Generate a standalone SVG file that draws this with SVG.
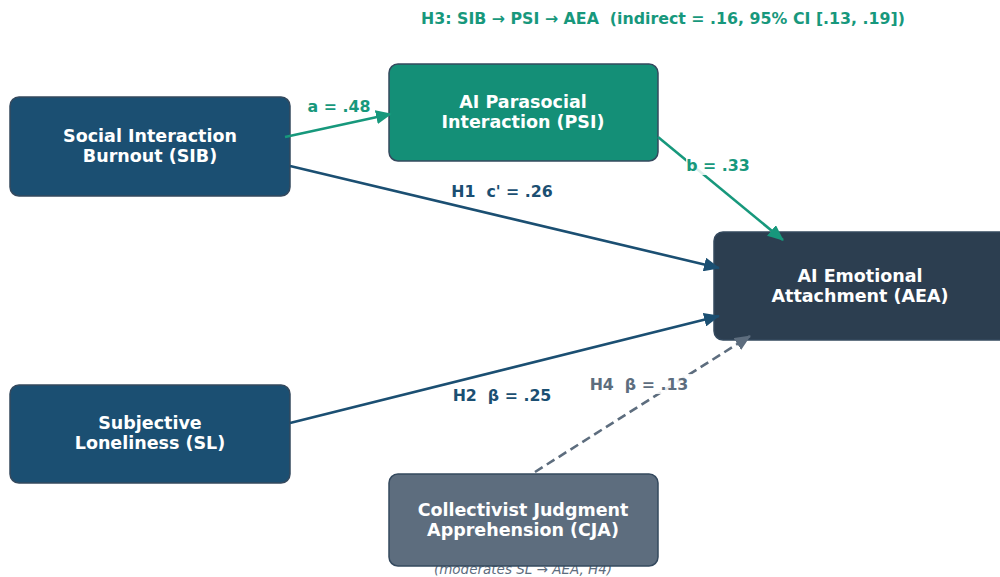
<svg xmlns="http://www.w3.org/2000/svg" width="1000" height="577" viewBox="0 0 1000 577">
<style>
.node{stroke:#34495e;stroke-width:1.5}
.nt{font-family:"DejaVu Sans",sans-serif;font-weight:bold;font-size:17.5px;fill:#ffffff;text-anchor:middle}
.lbl{font-family:"DejaVu Sans",sans-serif;font-weight:bold;font-size:15.8px;text-anchor:middle;white-space:pre}
.g{fill:#17987c}
.b{fill:#1b4f72}
.s{fill:#5d6d7e}
</style>
<defs>
<marker id="ag" markerUnits="userSpaceOnUse" markerWidth="16" markerHeight="14" refX="15" refY="7" orient="auto"><path d="M0,0 L16,7 L0,14 z" fill="#17987c"/></marker>
<marker id="ab" markerUnits="userSpaceOnUse" markerWidth="16" markerHeight="14" refX="15" refY="7" orient="auto"><path d="M0,0 L16,7 L0,14 z" fill="#1b4f72"/></marker>
<marker id="as" markerUnits="userSpaceOnUse" markerWidth="16" markerHeight="14" refX="15" refY="7" orient="auto"><path d="M0,0 L16,7 L0,14 z" fill="#5d6d7e"/></marker>
</defs>
<rect width="1000" height="577" fill="#ffffff"/>
<text x="663" y="24" class="lbl g" font-size="16.5" xml:space="preserve">H3: SIB → PSI → AEA  (indirect = .16, 95% CI [.13, .19])</text>
<text x="523" y="574" font-family="DejaVu Sans, sans-serif" font-style="italic" font-size="13.5" fill="#5d6d7e" text-anchor="middle">(moderates SL → AEA, H4)</text>
<g id="SIB"><rect class="node" x="10" y="97" width="280" height="99" rx="9" fill="#1b4f72"/><text class="nt" x="150" y="142">Social Interaction</text><text class="nt" x="150" y="162">Burnout (SIB)</text></g>
<g id="PSI"><rect class="node" x="389" y="64" width="269" height="97" rx="9" fill="#148f77"/><text class="nt" x="523" y="108">AI Parasocial</text><text class="nt" x="523" y="128">Interaction (PSI)</text></g>
<g id="AEA"><rect class="node" x="714" y="232" width="300" height="108" rx="9" fill="#2c3e50"/><text class="nt" x="860" y="282">AI Emotional</text><text class="nt" x="860" y="302">Attachment (AEA)</text></g>
<g id="SL"><rect class="node" x="10" y="385" width="280" height="98" rx="9" fill="#1b4f72"/><text class="nt" x="150" y="429">Subjective</text><text class="nt" x="150" y="449">Loneliness (SL)</text></g>
<g id="CJA"><rect class="node" x="389" y="474" width="269" height="92" rx="9" fill="#5d6d7e"/><text class="nt" x="523" y="516">Collectivist Judgment</text><text class="nt" x="523" y="536">Apprehension (CJA)</text></g>
<g id="connectors" fill="none" stroke-width="2.6">
<line x1="285" y1="137" x2="391" y2="114" stroke="#17987c" marker-end="url(#ag)"/>
<line x1="290" y1="166" x2="719" y2="268" stroke="#1b4f72" marker-end="url(#ab)"/>
<line x1="658" y1="137" x2="783" y2="240" stroke="#17987c" marker-end="url(#ag)"/>
<line x1="290" y1="423" x2="719" y2="316" stroke="#1b4f72" marker-end="url(#ab)"/>
<line x1="535" y1="472" x2="750" y2="336" stroke="#5d6d7e" stroke-dasharray="9,5" marker-end="url(#as)"/>
</g>
<g id="labels">
<text x="339" y="112" class="lbl g">a = .48</text>
<text x="502" y="197" class="lbl b" xml:space="preserve">H1  c' = .26</text>
<rect x="686" y="155" width="64" height="20" fill="#ffffff" opacity="0.85"/>
<text x="718" y="171" class="lbl g">b = .33</text>
<text x="502" y="401" class="lbl b" xml:space="preserve">H2  β = .25</text>
<rect x="586" y="374" width="106" height="20" fill="#ffffff" opacity="0.85"/>
<text x="639" y="390" class="lbl s" xml:space="preserve">H4  β = .13</text>
</g>
</svg>
